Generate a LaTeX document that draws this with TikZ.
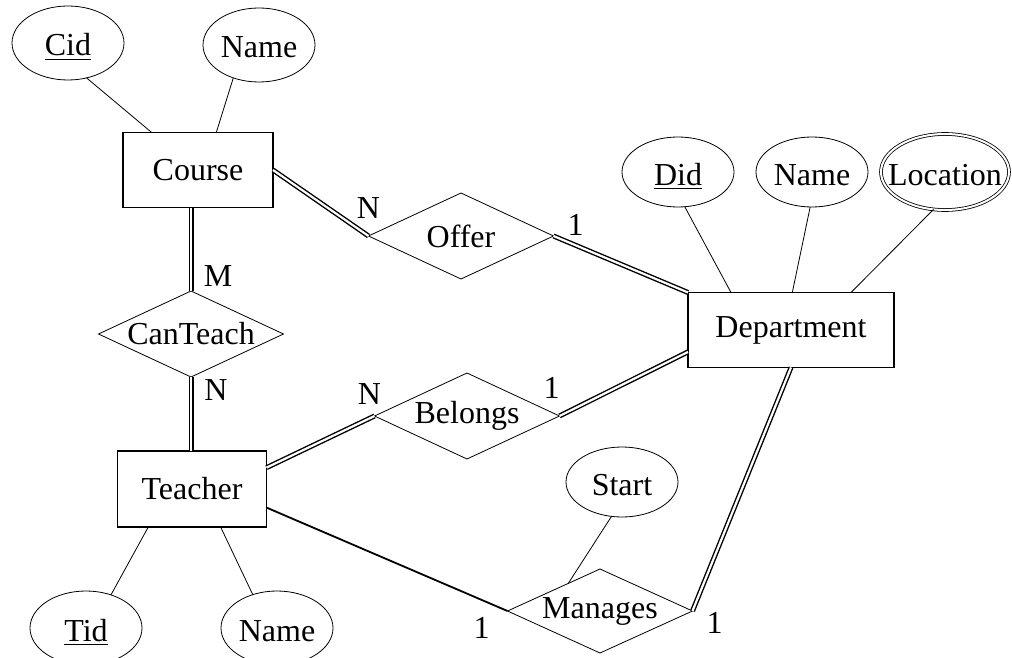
\documentclass[tikz,border=0pt]{standalone}
\usepackage{fontspec}
\setmainfont{Liberation Serif}
\usetikzlibrary{shapes.geometric,calc,positioning}

\begin{document}
\begin{tikzpicture}[x=0.5pt,y=-0.5pt,
    every node/.style={font=\fontsize{16}{19}\selectfont},
    entity/.style={draw,rectangle,line width=0.6pt,minimum height=37.5pt,inner sep=0pt,outer sep=0pt},
    attr/.style={draw,ellipse,minimum width=56pt,minimum height=37pt,inner sep=0pt,outer sep=0pt,
                 text height=13pt,text depth=0pt},
    rel/.style={draw,diamond,aspect=2.15,minimum width=92.5pt,minimum height=43pt,inner sep=0pt,outer sep=0pt},
    card/.style={inner sep=0pt},
    dbl/.style={double,double distance=1.1pt,line width=0.7pt}]
  \useasboundingbox (0,0) rectangle (1012,658);
  \clip (0,0) rectangle (1012,658);

  % entities
  \node[entity,minimum width=75pt] (course) at (198,170) {Course};
  \node[entity,minimum width=103pt] (dept) at (791,330) {Department};
  \node[entity,minimum width=74.5pt,minimum height=38pt] (teacher) at (192,489) {Teacher};

  % attributes
  \node[attr] (cid) at (68,43) {\underline{Cid}};
  \node[attr] (cname) at (259,45) {Name};
  \node[attr,minimum height=35pt] (did) at (678,172) {\underline{Did}};
  \node[attr,minimum height=35pt] (dname) at (812,172) {Name};
  \node[attr,double,double distance=1pt,minimum width=64pt,minimum height=38pt,inner xsep=-8pt] (loc) at (945,172) {Location};
  \node[attr] (tid) at (86,628) {\underline{Tid}};
  \node[attr] (tname) at (277,628) {Name};
  \node[attr,minimum height=35pt] (start) at (622,482) {Start};

  % relationships
  \node[rel] (offer) at (461,236) {Offer};
  \node[rel] (canteach) at (191,334) {CanTeach};
  \node[rel] (belongs) at (467,416) {Belongs};
  \node[rel,minimum height=42pt] (manages) at (600,611) {Manages};

  \draw (cid.298) -- (course.141);
  \draw (cname.232) -- (course.64);
  \draw (did.281) -- (dept.148);
  \draw (dname.267) -- (dept.88);
  \draw (loc.253) -- (dept.32);
  \draw (tid.53) -- (teacher.221);
  \draw (tname.126) -- (teacher.307);
  \draw (start.253) -- (manages.139);

  \draw[dbl] (course.east) -- (offer.west);
  \draw[dbl] (offer.east) -- (dept.north west);
  \draw[dbl] (canteach.north) -- (canteach.north |- course.south);
  \draw[dbl] (canteach.south) -- (canteach.south |- teacher.north);
  \draw[dbl] (teacher.16) -- (belongs.west);
  \draw[dbl] (belongs.east) -- (dept.192);
  \draw[line width=0.9pt] (teacher.346) -- (manages.west);
  \draw[dbl] (manages.east) -- (dept.south);

  % cardinalities
  \node[card] at ($(offer.west)+(0,-28)$) {N};
  \node[card] at ($(offer.east)+(22,-11)$) {1};
  \node[card] at ($(canteach.north)+(27,-15)$) {M};
  \node[card] at ($(canteach.south)+(25,13)$) {N};
  \node[card] at ($(belongs.west)+(-5,-22)$) {N};
  \node[card] at ($(belongs.east)+(-8,-28)$) {1};
  \node[card] at ($(manages.west)+(-26,17)$) {1};
  \node[card] at ($(manages.east)+(22,12)$) {1};
\end{tikzpicture}
\end{document}
